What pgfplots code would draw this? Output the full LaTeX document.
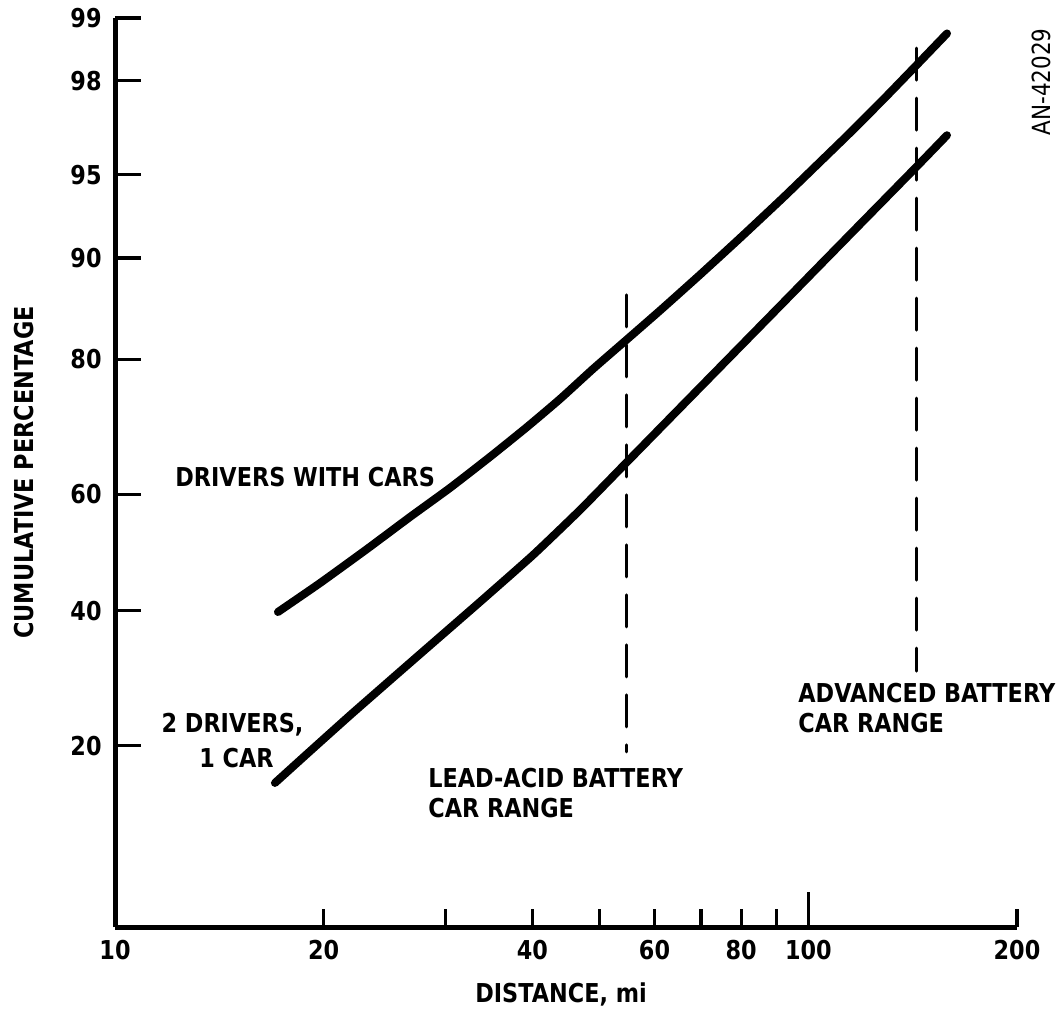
\documentclass[border=0pt]{standalone}
\usepackage{fontspec}
\setmainfont{DejaVu Sans}[FakeStretch=0.86]
\usepackage{pgfplots}
\pgfplotsset{compat=1.18}
% y values are standard normal quantiles (probability paper):
% 20% = -0.8416, 40% = -0.2533, 60% = 0.2533, 80% = 0.8416,
% 90% = 1.2816, 95% = 1.6449, 98% = 2.0537, 99% = 2.3263
\newcommand{\lbl}{\bfseries\fontsize{13}{15}\selectfont}
\begin{document}
\begin{tikzpicture}
\useasboundingbox (-57.5pt,-43pt) rectangle (471.5pt,463.5pt);
\begin{axis}[
  at={(0,0)}, anchor=south west,
  scale only axis, width=451pt, height=454.5pt,
  xmode=log, xmin=10, xmax=200, ymin=-1.630, ymax=2.3263,
  axis lines=left, axis line style={-, line width=2.5pt},
  clip=false,
  tick align=inside,
  major tick length=9pt, minor tick length=0pt,
  tick style={black, line width=1.6pt},
  xtick={10,20,30,40,50,60,70,80,90,200},
  xticklabels={10,20,,40,,60,,80,,200},
  extra x ticks={100}, extra x tick labels={100},
  extra x tick style={major tick length=17.5pt},
  ytick=\empty,
  extra y ticks={-0.8416,-0.2533,0.2533,0.8416,1.2816,1.6449,2.0537,2.3263},
  extra y tick labels={20,40,60,80,90,95,98,99},
  extra y tick style={major tick length=13pt},
  tick label style={font=\lbl, inner sep=0pt},
  xticklabel style={anchor=north, yshift=-6.5pt},
  yticklabel style={anchor=east, xshift=-6.5pt},
]
% Drivers with cars
\addplot[line width=4pt, line cap=round, line join=round, smooth, tension=0.3] coordinates {
  (17.18,-0.259) (19.76,-0.133) (23.09,0.015) (26.65,0.155) (30.42,0.281)
  (34.74,0.416) (39.29,0.546) (43.84,0.668) (48.92,0.799) (54.40,0.920)
  (61.11,1.053) (69.80,1.209) (79.68,1.368) (91.95,1.544) (102.2,1.678)
  (114.9,1.827) (128.2,1.971) (142.5,2.114) (158.5,2.259)};
% 2 drivers, 1 car
\addplot[line width=4pt, line cap=round, line join=round, smooth, tension=0.3] coordinates {
  (17.01,-1.003) (19.11,-0.865) (21.82,-0.709) (24.93,-0.556) (28.18,-0.416)
  (33.61,-0.215) (40.08,-0.011) (46.85,0.185) (54.40,0.385) (65.29,0.629)
  (80.51,0.909) (91.03,1.073) (102.9,1.237) (118.7,1.428) (142.5,1.672) (158.5,1.816)};
% range lines
\addplot[line width=1.5pt, line cap=round, dash pattern=on 16pt off 9pt] coordinates {(54.6,1.121) (54.6,-0.868)};
\addplot[line width=1.5pt, line cap=round, dash pattern=on 16pt off 9pt] coordinates {(143,2.195) (143,-0.516)};

\node[anchor=base west, inner sep=0pt, font=\lbl] at (rel axis cs:0.0665,0.4851) {DRIVERS WITH CARS};
\node[anchor=base, inner sep=0pt, font=\lbl] at (rel axis cs:0.1303,0.2145) {2 DRIVERS,};
\node[anchor=base, inner sep=0pt, font=\lbl] at (rel axis cs:0.1347,0.1760) {1 CAR};
\node[anchor=base west, inner sep=0pt, font=\lbl] at (rel axis cs:0.3470,0.1540) {LEAD-ACID BATTERY};
\node[anchor=base west, inner sep=0pt, font=\lbl] at (rel axis cs:0.3470,0.1210) {CAR RANGE};
\node[anchor=base west, inner sep=0pt, font=\lbl] at (rel axis cs:0.7572,0.2475) {ADVANCED BATTERY};
\node[anchor=base west, inner sep=0pt, font=\lbl] at (rel axis cs:0.7572,0.2145) {CAR RANGE};
\node[anchor=base, inner sep=0pt, font=\lbl] at (rel axis cs:0.4945,-0.0825) {DISTANCE, mi};
\node[anchor=base, inner sep=0pt, rotate=90, font=\lbl] at (rel axis cs:-0.0909,0.5) {CUMULATIVE PERCENTAGE};
\node[anchor=base, inner sep=0pt, rotate=90, font=\fontsize{12.5}{14}\selectfont] at (rel axis cs:1.0366,0.9296) {AN-42029};
\end{axis}
\end{tikzpicture}
\end{document}
